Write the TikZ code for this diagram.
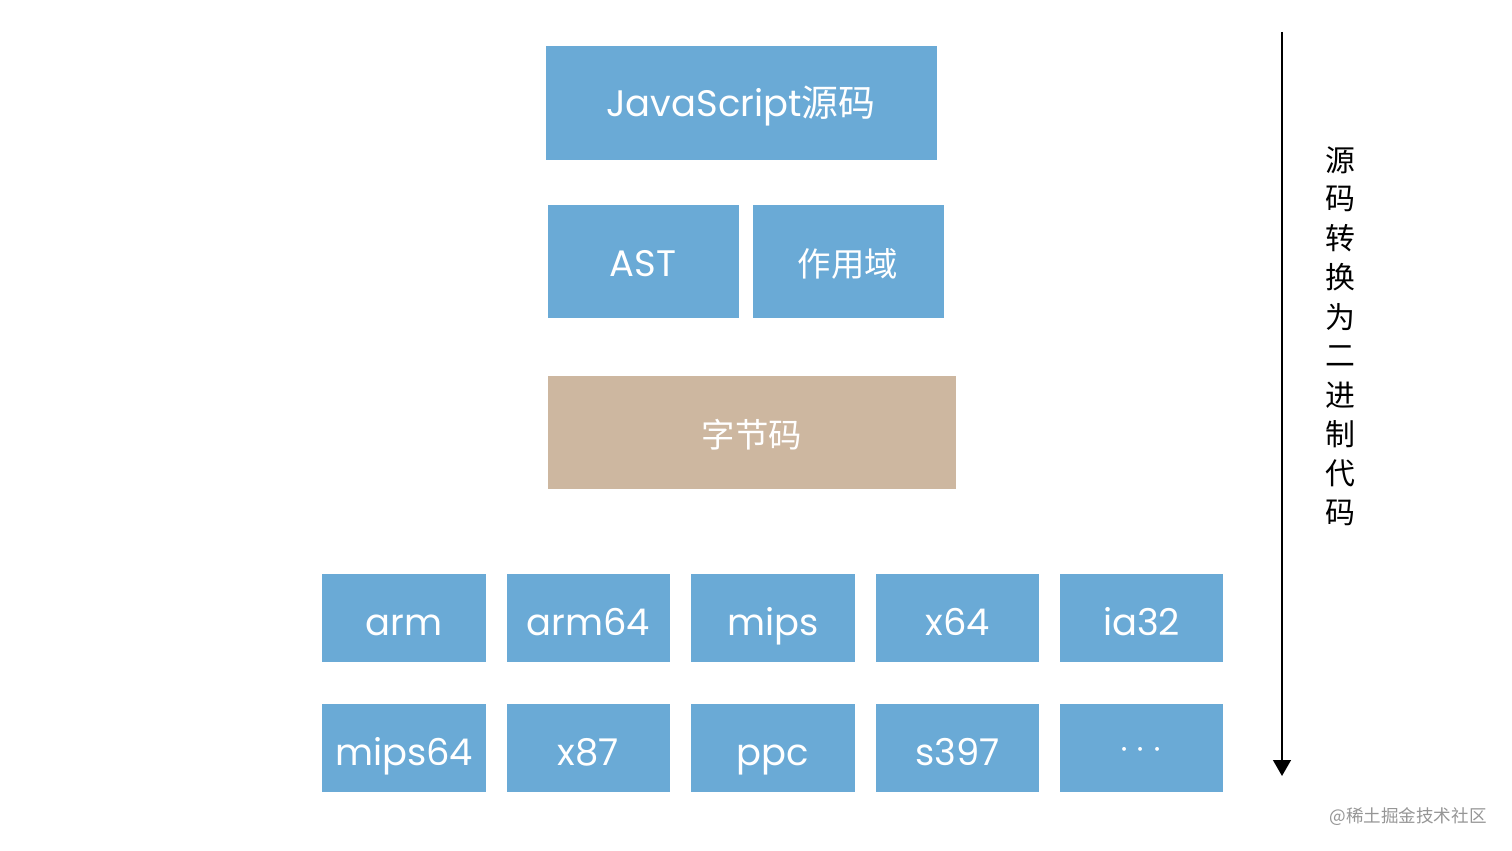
\documentclass[tikz,border=0pt]{standalone}
\usepackage{fontspec}
\usetikzlibrary{arrows.meta}
\setmainfont{Poppins}
\newfontfamily\cjk{Noto Sans CJK SC}
\definecolor{boxblue}{RGB}{106,170,214}
\definecolor{boxbeige}{RGB}{205,183,160}
\definecolor{wmgray}{RGB}{150,150,150}
\begin{document}
\begin{tikzpicture}[x=0.02cm,y=-0.02cm,
  bluebox/.style={fill=boxblue,draw=none},
  beigebox/.style={fill=boxbeige,draw=none},
  boxtext/.style={text=white,font=\fontsize{21}{25}\selectfont,inner sep=0pt,anchor=base},
  cjktext/.style={text=white,font=\cjk\fontsize{19}{23}\selectfont,inner sep=0pt},
  sidetext/.style={text=black,font=\cjk\fontsize{17}{20}\selectfont,inner sep=0pt},
  flow/.style={draw=black,line width=1.2pt,-{Triangle[length=9pt,width=10pt]}}]
\useasboundingbox (0,0) rectangle (1512,851);
\fill[white] (0,0) rectangle (1512,851);
% top
\fill[bluebox] (546,46) rectangle (937,160);
\node[boxtext] (js) at (741,117) {JavaScript{\cjk 源码}};
\fill[bluebox] (548,205) rectangle (739,318);
\node[boxtext] (ast) at (643,277) {AST};
\fill[bluebox] (753,205) rectangle (944,318);
\node[cjktext] (scope) at (848,264) {作用域};
\fill[beigebox] (548,376) rectangle (956,489);
\node[cjktext] (bc) at (752,435) {字节码};
% rows
\foreach \xa/\xb/\name/\txt in {322/486/a1/arm,507/670/a2/arm64,691/855/a3/mips,876/1039/a4/x64,1060/1223/a5/ia32}{
  \fill[bluebox] (\xa,574) rectangle (\xb,662);
  \node[boxtext] (\name) at ({(\xa+\xb)/2},635) {\txt};
}
\foreach \xa/\xb/\name/\txt in {322/486/b1/mips64,507/670/b2/x87,691/855/b3/ppc,876/1039/b4/s397}{
  \fill[bluebox] (\xa,704) rectangle (\xb,792);
  \node[boxtext] (\name) at ({(\xa+\xb)/2},765) {\txt};
}
\fill[bluebox] (1060,704) rectangle (1223,792);
\node[boxtext,anchor=center] (b5) at (1141,750) {$\cdots$};
% arrow
\coordinate (top) at (1282,32);
\coordinate (bot) at (1282,776);
\draw[flow] (top) -- (bot);
% side text
\foreach \c [count=\i from 0] in {源,码,转,换,为,二,进,制,代,码}{
  \node[sidetext] (s\i) at (1340,{160+39.2*\i}) {\c};
}
\node[text=wmgray,font=\cjk\fontsize{10}{12}\selectfont,inner sep=0pt] (wm) at (1408,817) {@稀土掘金技术社区};
\end{tikzpicture}
\end{document}
